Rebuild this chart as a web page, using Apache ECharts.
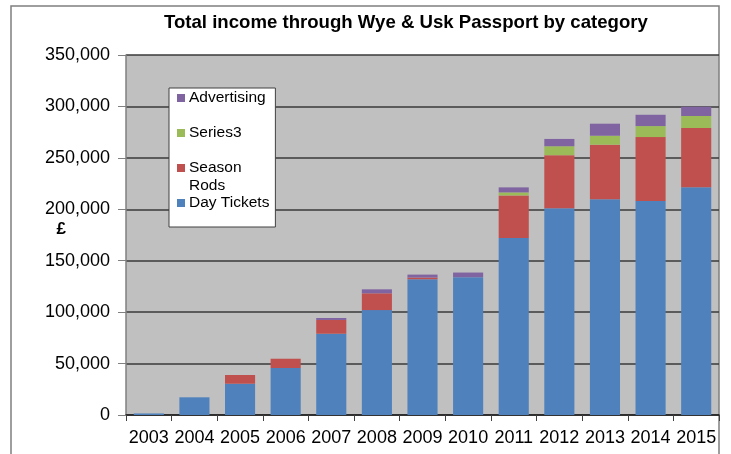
<!DOCTYPE html>
<html>
<head>
<meta charset="utf-8">
<script src="https://cdn.jsdelivr.net/npm/echarts@6/dist/echarts.min.js"></script>
<style>
  html, body { margin: 0; padding: 0; background: #fff; }
  #main { width: 731px; height: 454px; }
</style>
</head>
<body>
<div id="main"></div>
<script>
// data
var years = ['2003', '2004', '2005', '2006', '2007', '2008', '2009', '2010', '2011', '2012', '2013', '2014', '2015'];
var dayTickets = [1500, 17200, 30400, 45700, 79000, 102000, 132000, 134000, 172000, 201000, 209700, 208000, 221400];
var seasonRods = [0, 0, 8500, 9000, 13400, 16300, 1600, 0, 41500, 51600, 53100, 62200, 57600];
var series3 = [0, 0, 0, 0, 0, 0, 0, 0, 2900, 8700, 8700, 10700, 11700];
var advertising = [0, 0, 0, 0, 1900, 3900, 2900, 4500, 4900, 7100, 11700, 11000, 9000];
var yTicks = [0, 50000, 100000, 150000, 200000, 250000, 300000, 350000];

var colors = {
    'Day Tickets': '#4F81BD',
    'Season Rods': '#C0504D',
    'Series3': '#9BBB59',
    'Advertising': '#8064A2'
};

var myChart = echarts.init(document.getElementById('main'));

// legend entries built with rich text so the square sits on the first line
function sq(c) {
    return { width: 8, height: 8, backgroundColor: c, verticalAlign: 'middle' };
}
function txt(lh) {
    return { fontSize: 15.5, fontFamily: 'Arial, Liberation Sans', color: '#000', lineHeight: lh, height: lh, verticalAlign: 'middle' };
}

var option = {
    animation: false,
    title: {
        text: 'Total income through Wye & Usk Passport by category',
        left: 159,
        top: 8,
        textStyle: { fontSize: 18.6, fontWeight: 'bold', fontFamily: 'Arial, Liberation Sans', color: '#000' }
    },
    graphic: [{
        type: 'rect',
        shape: { x: 11, y: 6, width: 708, height: 470 },
        style: { fill: 'none', stroke: '#7f7f7f', lineWidth: 1.5 },
        silent: true
    }],
    legend: {
        orient: 'vertical',
        left: 169,
        top: 88,
        data: ['Advertising', 'Series3', 'Season Rods', 'Day Tickets'],
        itemWidth: 0,
        itemHeight: 0,
        itemGap: 0,
        padding: [1, 6, 16, 3],
        backgroundColor: '#fff',
        borderColor: '#404040',
        borderWidth: 1,
        borderRadius: 0,
        selectedMode: false,
        formatter: function (name) {
            if (name === 'Advertising') return '{sa|}{g|}{ta|Advertising}';
            if (name === 'Series3') return '{ss|}{g|}{ts|Series3}';
            if (name === 'Season Rods') return '{sr|}{g|}{tr|Season}\n{b|}{g|}{tr|Rods}';
            return '{sd|}{g|}{td|Day Tickets}';
        },
        textStyle: {
            rich: {
                sa: sq(colors['Advertising']),
                ss: sq(colors['Series3']),
                sr: sq(colors['Season Rods']),
                sd: sq(colors['Day Tickets']),
                b: { width: 8, height: 8 },
                g: { width: 4 },
                ta: txt(18),
                ts: txt(52),
                tr: txt(18),
                td: txt(16)
            }
        }
    },
    grid: {
        left: 126,
        right: 12,
        top: 55,
        bottom: 39,
        show: true,
        backgroundColor: '#C0C0C0',
        borderWidth: 0
    },
    xAxis: {
        type: 'category',
        data: years,
        axisLine: { lineStyle: { color: '#202020', width: 1.5 } },
        axisTick: { show: true, interval: 0, length: 6, lineStyle: { color: '#404040' } },
        axisLabel: { interval: 0, margin: 14, fontSize: 18, fontFamily: 'Arial, Liberation Sans', color: '#000' }
    },
    yAxis: {
        type: 'value',
        min: yTicks[0],
        max: yTicks[yTicks.length - 1],
        interval: yTicks[1] - yTicks[0],
        name: '£',
        nameLocation: 'middle',
        nameRotate: 0,
        nameGap: 60,
        nameMoveOverlap: false,
        nameTextStyle: { fontSize: 17, fontWeight: 'bold', fontFamily: 'Arial, Liberation Sans', color: '#000', verticalAlign: 'bottom', lineHeight: 12 },
        axisLine: { show: true, lineStyle: { color: '#808080', width: 1.5 } },
        axisTick: { show: true, length: 8, lineStyle: { color: '#808080' } },
        axisLabel: {
            margin: 16,
            fontSize: 18,
            fontFamily: 'Arial, Liberation Sans',
            color: '#000',
            formatter: function (v) { return v.toLocaleString('en-US'); }
        },
        splitLine: { lineStyle: { color: '#3a3a3a', width: 1.5 } }
    },
    series: [
        { name: 'Day Tickets', type: 'bar', stack: 'total', barWidth: '66%', data: dayTickets, itemStyle: { color: colors['Day Tickets'] } },
        { name: 'Season Rods', type: 'bar', stack: 'total', data: seasonRods, itemStyle: { color: colors['Season Rods'] } },
        { name: 'Series3', type: 'bar', stack: 'total', data: series3, itemStyle: { color: colors['Series3'] } },
        { name: 'Advertising', type: 'bar', stack: 'total', data: advertising, itemStyle: { color: colors['Advertising'] } }
    ]
};

myChart.setOption(option);
</script>
</body>
</html>
